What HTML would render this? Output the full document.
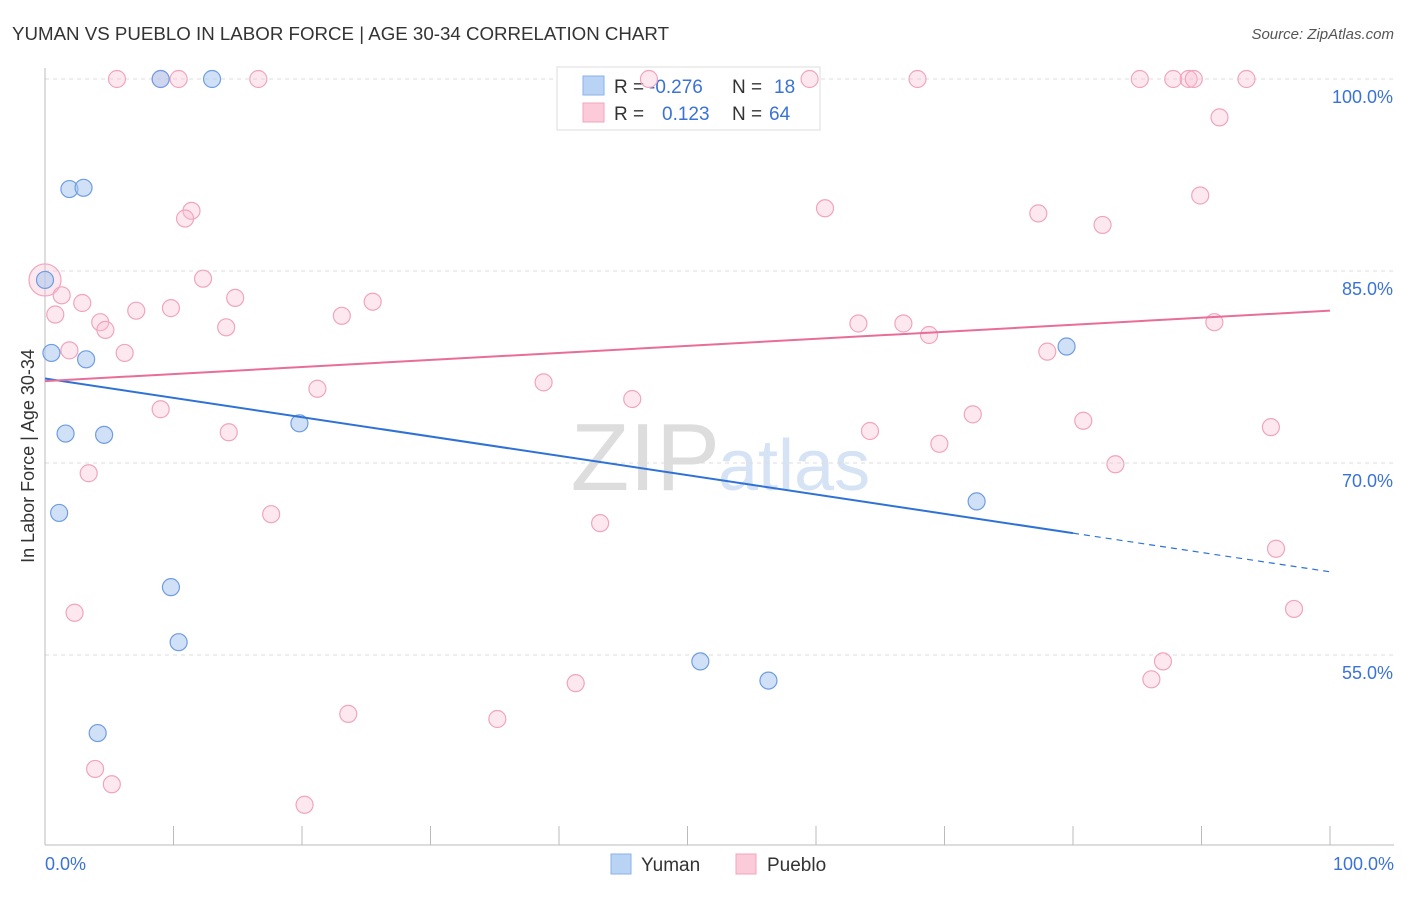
<!DOCTYPE html>
<html><head><meta charset="utf-8"><style>
body{margin:0;background:#fff;font-family:"Liberation Sans",sans-serif}
svg text{font-family:"Liberation Sans",sans-serif}
</style></head><body>
<svg id="chart" width="1406" height="892">
<text x="12" y="40" font-size="18" fill="#333" textLength="657" lengthAdjust="spacingAndGlyphs">YUMAN VS PUEBLO IN LABOR FORCE | AGE 30-34 CORRELATION CHART</text>
<text x="1394" y="39" font-size="15" fill="#555" text-anchor="end" font-style="italic">Source: ZipAtlas.com</text>
<text x="720" y="490" font-size="96" fill="#ddd" text-anchor="end" font-family="Liberation Serif">ZIP</text>
<text x="718" y="490" font-size="72" fill="#d5e3f5">atlas</text>
<g id="grid"></g>
<g>
<rect x="557" y="67" width="263" height="63" fill="#fff" stroke="#ddd"/>
<rect x="583" y="76" width="21" height="19" fill="#b9d3f5" stroke="#8ab2ea"/>
<rect x="583" y="103" width="21" height="19" fill="#fccbd9" stroke="#f0a5bd"/>
<text x="614" y="93" font-size="19" fill="#333">R =</text>
<text x="649" y="93" font-size="19" fill="#3a72d8">-0.276</text>
<text x="732" y="93" font-size="19" fill="#333">N =</text>
<text x="774" y="93" font-size="19" fill="#3a72d8">18</text>
<text x="614" y="120" font-size="19" fill="#333">R =</text>
<text x="662" y="120" font-size="19" fill="#3a72d8">0.123</text>
<text x="732" y="120" font-size="19" fill="#333">N =</text>
<text x="769" y="120" font-size="19" fill="#3a72d8">64</text>
</g>
<g id="marks"></g>
<text transform="translate(34,456) rotate(-90)" font-size="18" fill="#333" text-anchor="middle">In Labor Force | Age 30-34</text>
<text x="45" y="870" font-size="18" fill="#3a72d8">0.0%</text>
<text x="1394" y="870" font-size="18" fill="#3a72d8" text-anchor="end">100.0%</text>
<g>
<rect x="611" y="854" width="20" height="20" fill="#b9d3f5" stroke="#8ab2ea"/>
<text x="641" y="871" font-size="19" fill="#333">Yuman</text>
<rect x="736" y="854" width="20" height="20" fill="#fccbd9" stroke="#f0a5bd"/>
<text x="767" y="871" font-size="19" fill="#333">Pueblo</text>
</g>
</svg>
<script>
const yTicks=[100,85,70,55];
const yumanX=[9.0,13.0,1.9,3.0,0,0.5,3.2,1.6,4.6,19.8,1.1,9.8,10.4,4.1,51.0,56.3,79.5,72.5];
const yumanY=[100,100,91.4,91.5,84.3,78.6,78.1,72.3,72.2,73.1,66.1,60.3,56.0,48.9,54.5,53.0,79.1,67.0];
const puebloX=[5.6,9.0,10.4,16.6,47.0,59.5,67.9,85.2,87.8,89.0,89.4,93.5,91.4,89.9,60.7,77.3,82.3,11.4,10.9,12.3,0,1.3,2.9,14.8,25.5,0.8,7.1,9.8,23.1,4.3,4.7,14.1,63.3,66.8,68.8,91.0,1.9,6.2,78.0,21.2,38.8,45.7,9.0,72.2,80.8,14.3,64.2,69.6,95.4,3.4,83.3,17.6,43.2,95.8,2.3,97.2,87.0,86.1,41.3,23.6,35.2,3.9,5.2,20.2];
const puebloY=[100,100,100,100,100,100,100,100,100,100,100,100,97.0,90.9,89.9,89.5,88.6,89.7,89.1,84.4,84.3,83.1,82.5,82.9,82.6,81.6,81.9,82.1,81.5,81.0,80.4,80.6,80.9,80.9,80.0,81.0,78.8,78.6,78.7,75.8,76.3,75.0,74.2,73.8,73.3,72.4,72.5,71.5,72.8,69.2,69.9,66.0,65.3,63.3,58.3,58.6,54.5,53.1,52.8,50.4,50.0,46.1,44.9,43.3];
const trendYuman=[76.6,61.5];
const trendPueblo=[76.4,81.9];
const X=v=>45+v*12.85, Y=v=>79+(100-v)*12.8;
const NS='http://www.w3.org/2000/svg';
const grid=document.getElementById('grid'), marks=document.getElementById('marks');
function mk(tag,attrs,parent){const e=document.createElementNS(NS,tag);for(const k in attrs)e.setAttribute(k,attrs[k]);parent.appendChild(e);return e;}
yTicks.forEach(t=>{
 const l=mk('line',{x1:45,x2:1394,y1:Y(t),y2:Y(t),stroke:'#ddd','stroke-dasharray':'4,4'},grid);
 
 
 const tx=mk('text',{x:1393,y:Y(t)+24,'font-size':18,fill:'#3a72d8','text-anchor':'end'},grid);
 tx.textContent=t.toFixed(1)+'%';
 
 
});
const ax=mk('line',{x1:45,x2:45,y1:68,y2:845,stroke:'#bbb'},grid);


const bx=mk('line',{x1:45,x2:1394,y1:845,y2:845,stroke:'#bbb'},grid);


for(let i=0;i<=10;i++){const t=mk('line',{x1:X(i*10),x2:X(i*10),y1:826,y2:845,stroke:'#bbb'},grid);
 
 }
puebloX.forEach((x,i)=>{const c=mk('circle',{cx:X(x),cy:Y(puebloY[i]),r:(x===0?16:8.5),fill:'rgba(250,190,210,0.35)',stroke:'#f0a5bd','stroke-width':1.2},marks);
 
 });
yumanX.forEach((x,i)=>{const c=mk('circle',{cx:X(x),cy:Y(yumanY[i]),r:8.5,fill:'rgba(170,200,240,0.55)',stroke:'#6f9de0','stroke-width':1.2},marks);
 
 });
const ty=v=>trendYuman[0]+(trendYuman[1]-trendYuman[0])*v/100;
const l1=mk('line',{x1:X(0),y1:Y(ty(0)),x2:X(80),y2:Y(ty(80)),stroke:'#2f72d6','stroke-width':2},marks);


const l2=mk('line',{x1:X(80),y1:Y(ty(80)),x2:X(100),y2:Y(ty(100)),stroke:'#2f72d6','stroke-width':1.2,'stroke-dasharray':'6,5'},marks);


const l3=mk('line',{x1:X(0),y1:Y(trendPueblo[0]),x2:X(100),y2:Y(trendPueblo[1]),stroke:'#e86d98','stroke-width':2},marks);


</script>
</body></html>
